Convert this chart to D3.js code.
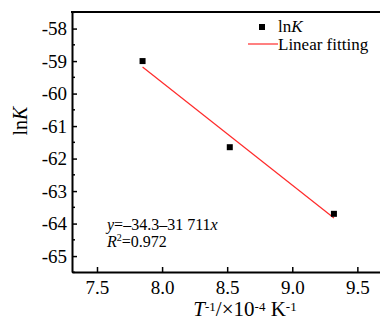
<!DOCTYPE html>
<html>
<head>
<meta charset="utf-8">
<script src="https://cdn.jsdelivr.net/npm/d3@7"></script>
<style>
    html, body { margin: 0; padding: 0; background: #fff; }
    svg { display: block; }
    svg text { font-family: 'Liberation Serif', 'DejaVu Serif', serif; }
</style>
</head>
<body>
<svg id="chart" width="380" height="320"></svg>
<script>
(function () {
    'use strict';

    // data
    const invT = [7.85, 8.52, 9.32];          // T^-1 / x10^-4 K^-1
    const lnK = [-59.0, -61.65, -63.7];
    const fitX = [7.85, 9.32];                // ends of the fitted line
    const fitY = [-59.18, -63.83];
    const xTicks = [7.5, 8.0, 8.5, 9.0, 9.5];
    const yTicks = [-58, -59, -60, -61, -62, -63, -64, -65];
    const yMinor = [-57.5, -58.5, -59.5, -60.5, -61.5, -62.5, -63.5, -64.5, -65.5];

    const W = 380;
    const L = 72, T = 12, R = 386, B = 272;

    const svg = d3.select('#chart');

    const x = d3.scaleLinear().domain([7.308, 9.72]).range([L, R]);
    const y = d3.scaleLinear().domain([-65.49, -57.49]).range([B, T]);

    // axes, ticks inward
    const xAxis = d3.axisBottom(x).tickValues(xTicks).tickFormat(d3.format('.1f'))
        .tickSizeInner(-5).tickSizeOuter(0).tickPadding(9);
    const yAxis = d3.axisLeft(y).tickValues(yTicks).tickFormat(d => String(d))
        .tickSizeInner(-5).tickSizeOuter(0).tickPadding(5);

    const gx = svg.append('g').attr('transform', `translate(0,${B})`).call(xAxis);
    const gy = svg.append('g').attr('transform', `translate(${L},0)`).call(yAxis);

    [gx, gy].forEach(function (g) {
        g.attr('font-family', null).attr('font-size', null);
        g.select('.domain').attr('stroke', '#000').attr('stroke-width', 2);
        g.selectAll('.tick line').attr('stroke', '#000').attr('stroke-width', 1.5);
        g.selectAll('.tick text').attr('fill', '#000').style('font-size', '19px');
    });

    // minor y ticks
    svg.append('g').selectAll('line').data(yMinor).enter().append('line')
        .attr('x1', L).attr('x2', L + 3)
        .attr('y1', d => y(d)).attr('y2', d => y(d))
        .attr('stroke', '#000').attr('stroke-width', 1.5);

    // top frame
    svg.append('line').attr('x1', L - 1).attr('x2', W).attr('y1', T).attr('y2', T)
        .attr('stroke', '#000').attr('stroke-width', 2);

    // fitted line
    svg.append('path')
        .datum(d3.zip(fitX, fitY))
        .attr('fill', 'none').attr('stroke', '#ff2a2a').attr('stroke-width', 1.2)
        .attr('d', d3.line().x(d => x(d[0])).y(d => y(d[1])));

    // points
    svg.append('g').selectAll('rect').data(d3.zip(invT, lnK)).enter().append('rect')
        .attr('x', d => x(d[0]) - 3).attr('y', d => y(d[1]) - 3)
        .attr('width', 6).attr('height', 6).attr('fill', '#000');

    // legend
    const lg = svg.append('g').style('font-size', '17px').attr('fill', '#000');
    lg.append('rect').attr('x', 259).attr('y', 24).attr('width', 6).attr('height', 6).attr('fill', '#000');
    const t1 = lg.append('text').attr('x', 278).attr('y', 32);
    t1.append('tspan').text('ln');
    t1.append('tspan').attr('font-style', 'italic').text('K');
    lg.append('line').attr('x1', 248).attr('x2', 278).attr('y1', 44).attr('y2', 44)
        .attr('stroke', '#ff2a2a').attr('stroke-width', 1.2);
    lg.append('text').attr('x', 278).attr('y', 50).text('Linear fitting');

    // equation
    const eq = svg.append('g').style('font-size', '16px').attr('fill', '#000');
    const e1 = eq.append('text').attr('x', 107).attr('y', 230);
    e1.append('tspan').attr('font-style', 'italic').text('y');
    e1.append('tspan').text('=\u201334.3\u201331 711');
    e1.append('tspan').attr('font-style', 'italic').text('x');
    const e2 = eq.append('text').attr('x', 107).attr('y', 247);
    e2.append('tspan').attr('font-style', 'italic').text('R');
    e2.append('tspan').style('font-size', '10px').attr('dy', -6).text('2');
    e2.append('tspan').attr('dy', 6).text('=0.972');

    // axis titles
    const yt = svg.append('text').style('font-size', '20px').attr('fill', '#000')
        .attr('text-anchor', 'middle')
        .attr('transform', 'translate(27,121) rotate(-90)');
    yt.append('tspan').text('ln');
    yt.append('tspan').attr('font-style', 'italic').text('K');

    const xt = svg.append('text').style('font-size', '21px').attr('fill', '#000')
        .attr('text-anchor', 'middle').attr('x', 245).attr('y', 316);
    xt.append('tspan').attr('font-style', 'italic').text('T');
    xt.append('tspan').style('font-size', '13px').attr('dy', -5).text('-1');
    xt.append('tspan').attr('dy', 5).text('/\u00d710');
    xt.append('tspan').style('font-size', '13px').attr('dy', -5).text('-4');
    xt.append('tspan').attr('dy', 5).text(' K');
    xt.append('tspan').style('font-size', '13px').attr('dy', -5).text('-1');
})();
</script>
</body>
</html>
